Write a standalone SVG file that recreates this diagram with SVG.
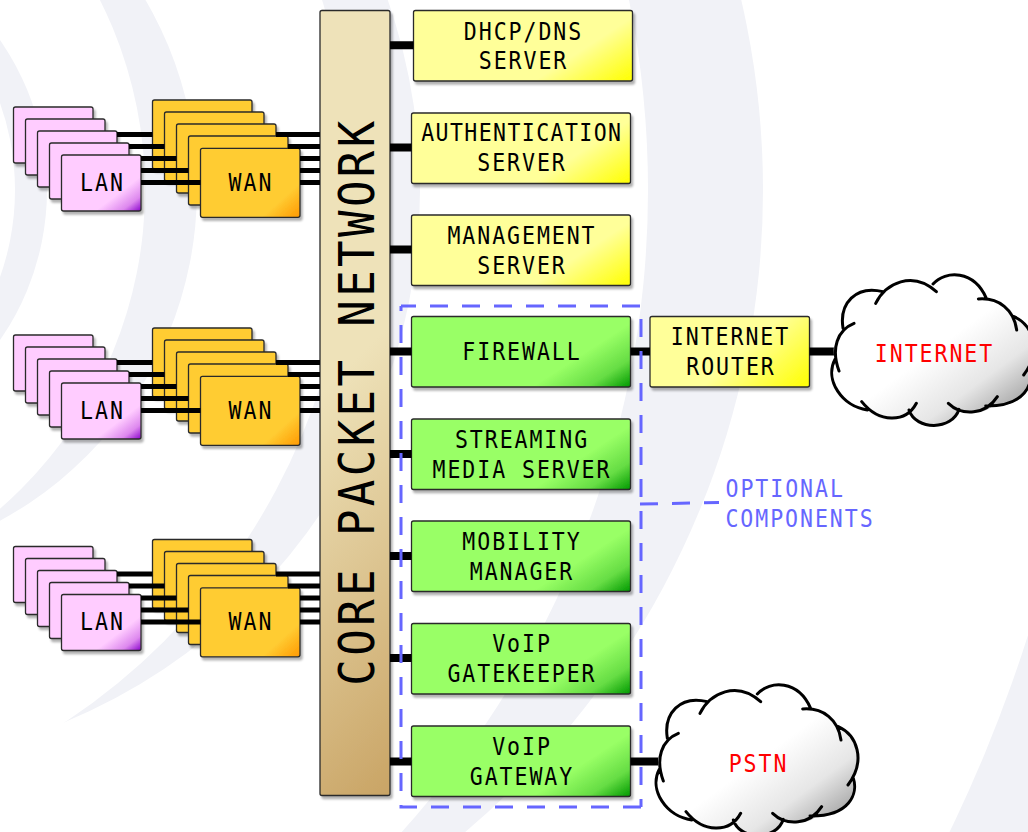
<svg xmlns="http://www.w3.org/2000/svg" xmlns:xlink="http://www.w3.org/1999/xlink" width="1028" height="832" viewBox="0 0 1028 832">
<style>
text{font-family:"DejaVu Sans Mono","Liberation Mono",monospace;font-size:24.5px;letter-spacing:2.2px;fill:#000;text-anchor:middle;transform-box:fill-box;transform-origin:center;transform:scaleX(.88)}
.box{stroke:#2a2a2a;stroke-width:1.3;filter:url(#sh)}
.y{fill:url(#gy)}.r{fill:url(#gr)}.g{fill:url(#gg)}.p{fill:url(#gp)}.o{fill:url(#go)}.c{fill:url(#gc)}
.thick{fill:none;stroke:#000;stroke-width:8}
.thin{fill:none;stroke:#000;stroke-width:5}
.dash{fill:none;stroke:#6666ff;stroke-width:3;stroke-dasharray:18 14}
.bb{fill:#f1f2f7}.bw{fill:#fff}
.cl{fill:none;stroke:#000;stroke-width:9;stroke-linecap:round}
</style>
<defs>
<filter id="sh" x="-10%" y="-10%" width="125%" height="125%"><feDropShadow dx="2" dy="3" stdDeviation="1" flood-color="#000" flood-opacity=".3"/></filter>
<linearGradient id="gy" x1="0" y1="0" x2="1.2" y2=".594"><stop offset="0" stop-color="#ffff99"/><stop offset=".7" stop-color="#ffff99"/><stop offset="1" stop-color="#ffff00"/></linearGradient>
<linearGradient id="gr" x1="0" y1="0" x2="1.2" y2=".6"><stop offset="0" stop-color="#ffff99"/><stop offset=".55" stop-color="#ffff99"/><stop offset="1" stop-color="#ffff00"/></linearGradient>
<linearGradient id="gg" x1="0" y1="0" x2="1.2" y2=".594"><stop offset="0" stop-color="#99ff66"/><stop offset=".7" stop-color="#99ff66"/><stop offset=".87" stop-color="#66dd44"/><stop offset="1" stop-color="#009900"/></linearGradient>
<linearGradient id="gp" x1="0" y1="0" x2="1.038" y2=".962"><stop offset="0" stop-color="#ffccff"/><stop offset=".7" stop-color="#ffccff"/><stop offset=".87" stop-color="#dd88ee"/><stop offset="1" stop-color="#8800cc"/></linearGradient>
<linearGradient id="go" x1="0" y1="0" x2="1.11" y2=".857"><stop offset="0" stop-color="#ffcc33"/><stop offset=".78" stop-color="#ffcc33"/><stop offset="1" stop-color="#ff9900"/></linearGradient>
<linearGradient id="gc" x1="0" y1="0" x2=".0966" y2="1.08"><stop offset="0" stop-color="#eee2b9"/><stop offset=".45" stop-color="#eee2b9"/><stop offset="1" stop-color="#c9a465"/></linearGradient>
<linearGradient id="gw" x1="0" y1="0" x2="1" y2="1"><stop offset="0" stop-color="#fff"/><stop offset=".5" stop-color="#fff"/><stop offset=".72" stop-color="#e6e6e6"/><stop offset=".87" stop-color="#b0b0b0"/><stop offset="1" stop-color="#777"/></linearGradient>
<g id="stack">
<rect class="box p" x="13.5" y="107" width="79.5" height="56" rx="2"/>
<rect class="box p" x="25.5" y="119" width="79.5" height="56" rx="2"/>
<rect class="box p" x="37.5" y="131" width="79.5" height="56" rx="2"/>
<rect class="box p" x="49.5" y="143" width="79.5" height="56" rx="2"/>
<rect class="box p" x="61.5" y="155" width="79.5" height="56" rx="2"/>
<text x="102.5" y="191">LAN</text>
</g>
<g id="wanstack">
<rect class="box o" x="152.5" y="100" width="99.5" height="69" rx="2"/>
<rect class="box o" x="164.5" y="112" width="99.5" height="69" rx="2"/>
<rect class="box o" x="176.5" y="124" width="99.5" height="69" rx="2"/>
<rect class="box o" x="188.5" y="136" width="99.5" height="69" rx="2"/>
<rect class="box o" x="200.5" y="148.3" width="99.5" height="69" rx="2"/>
<text x="251" y="191">WAN</text>
</g>
<path id="trunk" class="thin" d="M117 134.5H152.5M276 134.5H320M129 146.5H164.5M288 146.5H320M141 158.5H176.5M300 158.5H320M141 170.5H188.5M300 170.5H320M141 182.5H200.5M300 182.5H320"/>
<g id="cloudshape">
<path d="M140 205C135 130 180 85 250 92C290 60 370 35 418 80C450 35 535 30 572 115C610 115 655 150 660 175C710 195 740 270 695 330C715 370 690 440 590 438C570 460 500 470 485 445C470 510 360 510 345 450C310 490 250 490 215 450C140 440 90 360 118 300C105 260 130 205 140 205Z" fill="url(#gw)"/>
<path class="cl" d="M142 205C130 130 180 75 262 95M240 130C270 70 350 30 422 95M412 72C450 30 535 30 572 115M548 117C610 112 655 150 663 210M655 170C710 195 740 270 684 345M700 325C715 370 690 440 570 438M605 410C570 465 500 470 458 430M490 448C470 512 360 512 340 450M362 430C330 490 250 490 198 425M215 450C140 440 85 360 118 298M175 190C125 210 105 265 130 333"/>
</g>
</defs>

<g id="background">
<rect class="bb" width="1028" height="832"/>
<circle class="bw" cx="-374" cy="190" r="1471"/>
<circle class="bb" cx="-78" cy="190" r="841"/>
<circle class="bw" cx="-312" cy="190" r="960"/>
<circle class="bb" cx="-156" cy="190" r="576"/>
<circle class="bw" cx="-287" cy="190" r="638"/>
<circle class="bb" cx="-179" cy="190" r="376"/>
<circle class="bw" cx="-278" cy="190" r="423"/>
<circle class="bb" cx="-216" cy="190" r="263"/>
<circle class="bw" cx="-245" cy="190" r="260"/>
</g>

<g id="core"><rect class="box c" x="320" y="10.5" width="70" height="785" rx="2"/>
<g transform="translate(374,401.5) rotate(-90)"><text style="font-size:50px;letter-spacing:3.9px">CORE PACKET NETWORK</text></g></g>

<g id="dhcp"><rect class="box y" x="413.5" y="10.5" width="219" height="70.5" rx="2"/><text x="523.5" y="39.7">DHCP/DNS</text><text x="523.5" y="69.5">SERVER</text></g>
<g id="auth"><rect class="box y" x="411.5" y="113" width="219" height="70.5" rx="2"/><text x="521.8" y="141.5" style="letter-spacing:1.6px">AUTHENTICATION</text><text x="522" y="171.5">SERVER</text></g>
<g id="mgmt"><rect class="box y" x="411.5" y="215" width="219" height="70.5" rx="2"/><text x="522" y="243.7">MANAGEMENT</text><text x="522" y="274.2">SERVER</text></g>
<g id="firewall"><rect class="box g" x="411.5" y="316.5" width="219" height="70.5" rx="2"/><text x="522" y="360">FIREWALL</text></g>
<g id="streaming"><rect class="box g" x="411.5" y="419" width="219" height="70.5" rx="2"/><text x="522" y="448">STREAMING</text><text x="522" y="478">MEDIA SERVER</text></g>
<g id="mobility"><rect class="box g" x="411.5" y="521" width="219" height="70.5" rx="2"/><text x="522" y="550">MOBILITY</text><text x="522" y="580">MANAGER</text></g>
<g id="gatekeeper"><rect class="box g" x="411.5" y="623.5" width="219" height="70.5" rx="2"/><text x="522" y="652">VoIP</text><text x="522" y="682">GATEKEEPER</text></g>
<g id="gateway"><rect class="box g" x="411.5" y="726" width="219" height="70.5" rx="2"/><text x="522" y="755">VoIP</text><text x="522" y="785">GATEWAY</text></g>
<g id="router"><rect class="box r" x="650" y="316.5" width="159.5" height="70.5" rx="2"/><text x="730.5" y="344.7">INTERNET</text><text x="731" y="375">ROUTER</text></g>

<use id="lan-1" href="#stack"/><use id="wan-1" href="#wanstack"/>
<use id="lan-2" href="#stack" y="228"/><use id="wan-2" href="#wanstack" y="228"/>
<use id="lan-3" href="#stack" y="439.5"/><use id="wan-3" href="#wanstack" y="439.5"/>

<g id="connectors">
<use href="#trunk"/><use href="#trunk" y="228"/><use href="#trunk" y="439.5"/>
<path class="thick" d="M390 45.3H413.5M390 147.5H411.5M390 249.5H411.5M390 351.5H411.5M390 454H411.5M390 556H411.5M390 658H411.5M390 761.5H411.5M630.5 351.5H650M809.5 351.5H836M630.5 761.5H662"/>
</g>

<g id="internet"><g transform="translate(795.7,260) scale(.3333)"><use href="#cloudshape"/></g><text x="934.5" y="361.7" style="fill:#ff0000">INTERNET</text></g>
<g id="pstn"><g transform="translate(620,670) scale(.3333)"><use href="#cloudshape"/></g><text x="758.5" y="771.7" style="fill:#ff0000">PSTN</text></g>

<g id="optional">
<path class="dash" stroke-dashoffset="3" d="M401 306H641V807"/>
<path class="dash" d="M641 807H401V306"/>
<path class="dash" d="M640 504L719 502.5"/>
<text x="717.4" y="496.7" style="text-anchor:start;fill:#6666ff">OPTIONAL</text>
<text x="715.3" y="527.3" style="text-anchor:start;fill:#6666ff">COMPONENTS</text>
</g>
</svg>
